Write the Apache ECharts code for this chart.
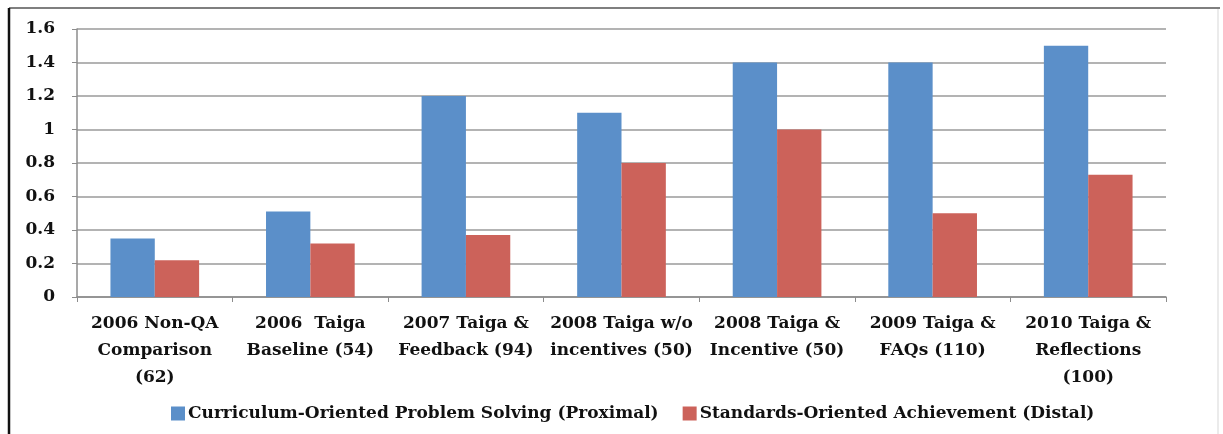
<!DOCTYPE html>
<html>
<head>
<meta charset="utf-8">
<script src="https://cdn.jsdelivr.net/npm/echarts@6/dist/echarts.min.js"></script>
<style>
  html, body { margin: 0; padding: 0; background: #fff; }
  #main { width: 1223px; height: 434px; }
</style>
</head>
<body>
<div id="main"></div>
<script>
var categories = [
  '2006 Non-QA\nComparison\n(62)',
  '2006  Taiga\nBaseline (54)',
  '2007 Taiga &\nFeedback (94)',
  '2008 Taiga w/o\nincentives (50)',
  '2008 Taiga &\nIncentive (50)',
  '2009 Taiga &\nFAQs (110)',
  '2010 Taiga &\nReflections\n(100)'
];
var seriesNames = [
  'Curriculum-Oriented Problem Solving (Proximal)',
  'Standards-Oriented Achievement (Distal)'
];
var proximal = [0.35, 0.51, 1.2, 1.1, 1.4, 1.4, 1.5];
var distal = [0.22, 0.32, 0.37, 0.8, 1.0, 0.5, 0.73];

var labelFont = '"DejaVu Serif", serif';

var chart = echarts.init(document.getElementById('main'));
var option = {
  backgroundColor: '#fff',
  animation: false,
  color: ['#5B8FC9', '#CC625A'],
  grid: { left: 77, right: 57, top: 29, bottom: 137, containLabel: false },
  legend: {
    top: 400,
    left: 166,
    itemWidth: 14,
    itemHeight: 14,
    itemGap: 24,
    icon: 'rect',
    textStyle: { fontFamily: labelFont, fontWeight: 'bold', fontSize: 17, color: '#111', padding: [0, 0, 0, -2] },
    data: seriesNames
  },
  xAxis: {
    type: 'category',
    data: categories,
    axisLine: { lineStyle: { color: '#8c8c8c', width: 1.5 } },
    axisTick: { show: true, length: 5, lineStyle: { color: '#8c8c8c' } },
    axisLabel: {
      interval: 0,
      margin: 13,
      fontFamily: labelFont,
      fontWeight: 'bold',
      fontSize: 17,
      lineHeight: 27,
      color: '#111'
    }
  },
  yAxis: {
    type: 'value',
    min: 0,
    max: 1.6,
    interval: 0.2,
    axisLine: { show: true, lineStyle: { color: '#8c8c8c', width: 1.5 } },
    axisTick: { show: true, length: 5, lineStyle: { color: '#8c8c8c' } },
    splitLine: { lineStyle: { color: '#9a9a9a', width: 1.5 } },
    axisLabel: {
      margin: 22,
      fontFamily: labelFont,
      fontWeight: 'bold',
      fontSize: 17,
      color: '#111',
      formatter: function (v) { return String(Math.round(v * 10) / 10); }
    }
  },
  graphic: [
    { type: 'line', shape: { x1: 9, y1: 8, x2: 1220, y2: 8 }, style: { stroke: '#555', lineWidth: 1.5 } },
    { type: 'line', shape: { x1: 9, y1: 8, x2: 9, y2: 434 }, style: { stroke: '#111', lineWidth: 2.5 } },
    { type: 'line', shape: { x1: 1218, y1: 9, x2: 1218, y2: 434 }, style: { stroke: '#e4e4e4', lineWidth: 1.5 } }
  ],
  series: [
    { name: seriesNames[0], type: 'bar', data: proximal, barGap: '0%', barCategoryGap: '43%' },
    { name: seriesNames[1], type: 'bar', data: distal, barGap: '0%', barCategoryGap: '43%' }
  ]
};
chart.setOption(option);
</script>
</body>
</html>
